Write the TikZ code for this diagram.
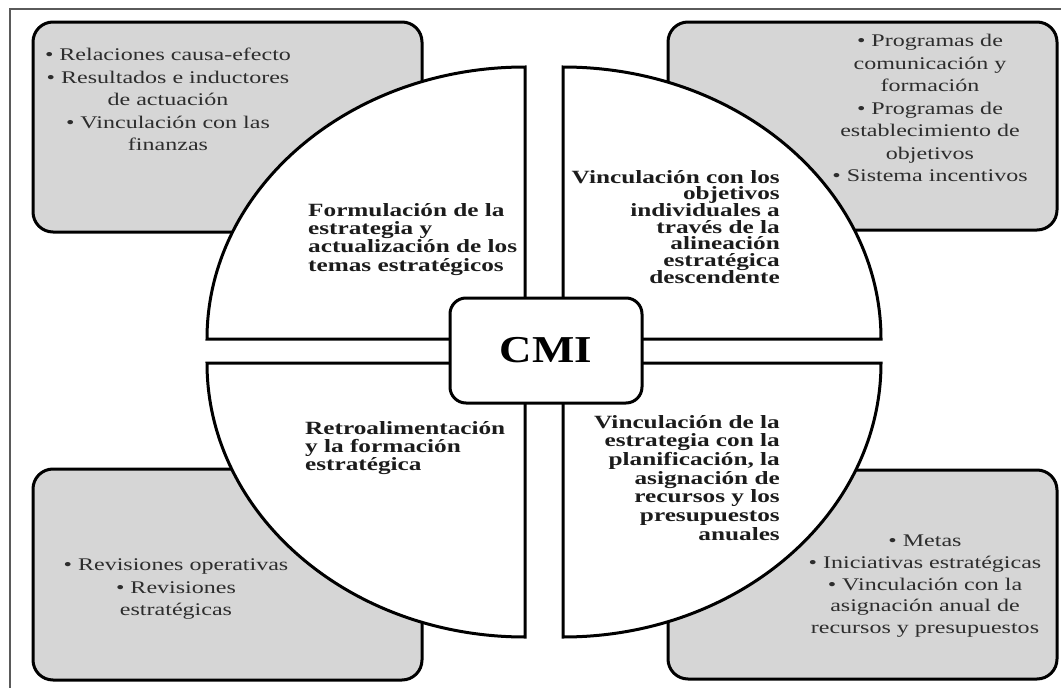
\documentclass[tikz,border=0pt]{standalone}
\usepackage{fontspec}
\setmainfont{Liberation Serif}
\newfontfamily\widefont[FakeStretch=1.35]{Liberation Serif}
\newfontfamily\cmifont[FakeStretch=1.18]{Liberation Serif}
\newcommand\tightlines{\lineskiplimit-20pt\relax}
\definecolor{boxgray}{RGB}{214,214,214}
\definecolor{framegray}{RGB}{90,90,90}
\definecolor{textgray}{RGB}{45,45,45}
\definecolor{boldtext}{RGB}{28,28,28}
\begin{document}
\begin{tikzpicture}[x=1pt,y=-1pt,
  cornerbox/.style={line width=3pt, fill=boxgray, draw=black, rounded corners=20pt},
  quad/.style={line width=3pt, fill=white, draw=black},
  boxtext/.style={inner sep=0pt, align=center, anchor=north, text=textgray,
    font=\widefont\fontsize{17.8}{22.5}\selectfont},
  qtext/.style={inner sep=0pt, text=boldtext,
    font=\widefont\bfseries\fontsize{18.7}{18.4}\selectfont\tightlines},
  cmibox/.style={line width=3pt, fill=white, draw=black, rounded corners=16pt,
    minimum width=192pt, minimum height=105pt, inner sep=0pt,
    font=\cmifont\bfseries\fontsize{38}{40}\selectfont}
]
\useasboundingbox (0,0) rectangle (1061,688);
% frame (only top and left edges are visible)
\draw[line width=1.2pt, draw=framegray] (10,688) -- (10,9) -- (1061,9);
% corner boxes
\draw[cornerbox] (33,22) rectangle (422,232);
\draw[cornerbox] (668,22) rectangle (1057,230);
\draw[cornerbox] (33,469) rectangle (422,680);
\draw[cornerbox] (668,470) rectangle (1057,679);
% box texts
\node[boxtext] (t1) at (168,48) {• Relaciones causa-efecto\\• Resultados e inductores\\de actuación\\• Vinculación con las\\finanzas};
\node[boxtext] (t2) at (930,34) {• Programas de\\comunicación y\\formación\\• Programas de\\establecimiento de\\objetivos\\• Sistema incentivos};
\node[boxtext] (t3) at (176,559) {• Revisiones operativas\\• Revisiones\\estratégicas};
\node[boxtext, font=\widefont\fontsize{17.8}{21.7}\selectfont] (t4) at (925,535) {• Metas\\• Iniciativas estratégicas\\• Vinculación con la\\asignación anual de\\recursos y presupuestos};
% quadrants
\draw[quad] (525,339) -- (207,339) arc[start angle=180, end angle=270, x radius=318, y radius=272] -- cycle;
\draw[quad] (563,339) -- (563,67) arc[start angle=270, end angle=360, x radius=318, y radius=272] -- cycle;
\draw[quad] (525,363) -- (207,363) arc[start angle=180, end angle=90, x radius=318, y radius=274] -- cycle;
\draw[quad] (563,363) -- (881,363) arc[start angle=0, end angle=90, x radius=318, y radius=274] -- cycle;
% quadrant texts
\node[qtext, anchor=north west, align=left] (q1) at (308,203) {Formulación de la\\estrategia y\\actualización de los\\temas estratégicos};
\node[qtext, anchor=north east, align=right, font=\widefont\bfseries\fontsize{18.7}{16.7}\selectfont\tightlines] (q2) at (780,170) {Vinculación con los\\objetivos\\individuales a\\través de la\\alineación\\estratégica\\descendente};
\node[qtext, anchor=north west, align=left] (q3) at (305,421) {Retroalimentación\\y la formación\\estratégica};
\node[qtext, anchor=north east, align=right, font=\widefont\bfseries\fontsize{18.7}{18.7}\selectfont\tightlines] (q4) at (780,415) {Vinculación de la\\estrategia con la\\planificación, la\\asignación de\\recursos y los\\presupuestos\\anuales};
% centre
\node[cmibox] (cmi) at (546,350.5) {CMI};
\end{tikzpicture}
\end{document}
